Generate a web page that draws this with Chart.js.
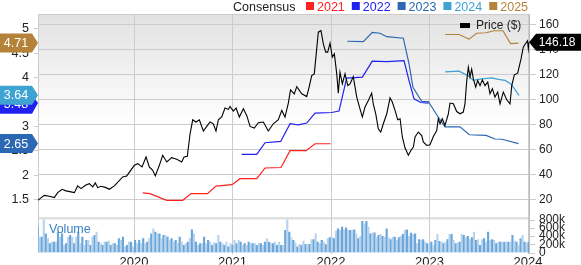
<!DOCTYPE html>
<html><head><meta charset="utf-8">
<script src="https://cdn.jsdelivr.net/npm/chart.js@4.4.1/dist/chart.umd.min.js"></script>
<style>html,body{margin:0;padding:0;background:#fff;overflow:hidden}canvas{display:block}</style>
</head><body>
<canvas id="c" width="581" height="265"></canvas>
<script>
// ---------------- DATA ----------------
const yearTicks = [2020, 2021, 2022, 2023, 2024];
const priceTicks = [20, 40, 60, 80, 100, 120, 140, 160];
const estTicks = [1.5, 2, 2.5, 3, 3.5, 4, 4.5, 5];
const volTicks = [0, 200, 400, 600, 800]; // thousands
const volTickLabels = ['0', '200k', '400k', '600k', '800k'];

const priceYears = [2019.022,2019.089,2019.140,2019.191,2019.225,2019.269,2019.310,2019.394,2019.428,2019.462,
2019.506,2019.546,2019.581,2019.607,2019.631,2019.665,2019.716,2019.749,2019.800,2019.885,
2019.926,2020.003,2020.038,2020.081,2020.122,2020.155,2020.190,2020.216,2020.257,2020.291,
2020.332,2020.383,2020.434,2020.484,2020.508,2020.541,2020.569,2020.596,2020.629,2020.663,
2020.704,2020.738,2020.772,2020.805,2020.832,2020.856,2020.890,2020.924,2020.957,2020.975,
2021.008,2021.036,2021.069,2021.110,2021.144,2021.178,2021.221,2021.262,2021.313,2021.363,
2021.414,2021.465,2021.500,2021.533,2021.567,2021.589,2021.627,2021.652,2021.703,2021.753,
2021.777,2021.804,2021.830,2021.871,2021.898,2021.922,2021.946,2021.966,2021.990,2022.013,
2022.034,2022.058,2022.074,2022.091,2022.115,2022.142,2022.170,2022.193,2022.226,2022.261,
2022.294,2022.318,2022.345,2022.379,2022.413,2022.429,2022.454,2022.480,2022.505,2022.531,
2022.566,2022.599,2022.622,2022.650,2022.677,2022.701,2022.724,2022.751,2022.785,2022.815,
2022.836,2022.853,2022.886,2022.921,2022.937,2022.972,2023.005,2023.039,2023.073,2023.089,
2023.107,2023.130,2023.157,2023.191,2023.208,2023.242,2023.276,2023.310,2023.343,2023.360,
2023.378,2023.394,2023.411,2023.428,2023.445,2023.469,2023.489,2023.513,2023.536,2023.563,
2023.591,2023.614,2023.638,2023.665,2023.692,2023.716,2023.749,2023.784,2023.817,2023.835,
2023.861,2023.895,2023.929,2023.952,2023.977,2023.995,2024.003,2024.010];
const priceValues = [19.4,23.4,22.7,21.6,25.6,28.3,27,25.6,31,28.8,
31.5,32.8,30.2,33.4,29.6,30.7,29.6,28.3,31,38.2,
39,47.5,48.8,46.2,54.2,46.2,43.5,39,47.5,55.5,
50.2,53.6,52.3,50.2,54.2,54.7,72.8,84,82.2,84,
75,78.7,82.2,80.8,75,84,86.2,93.4,92.3,94.7,
91,93.4,86.2,92.8,87.5,78.7,77.4,81.6,82.2,75,
80.8,84,91.5,86.2,97.5,108,104.8,110.6,104.8,102.6,
110,119.4,120.8,154.2,155.4,144.8,138.2,138.2,145.4,134.2,
136.8,120.8,105.4,122.2,112.8,120.8,111.4,112.8,118.6,102.2,
92.8,86.2,94.2,99.4,105.4,96.8,88.8,76.8,74.2,80.8,
88.8,101.6,98.2,91.5,84,84.8,70.2,61.5,55.5,60,
62.2,70.2,74.2,71.4,66.2,63.4,64,70.6,75.4,84.8,
80.8,84.8,79.4,88.8,97.4,96.8,90.6,88.8,90.2,96.8,
115.4,126.2,118.2,124.6,116.8,110.2,115.4,111.4,116,111.4,
114.2,104.8,108.8,102.2,106.2,96.8,106.2,100,96.8,111.4,
120,121.4,132.8,142.2,145.4,147.4,141,146.18];
const lastPrice = 146.18;

const est2021Years = [2020.088,2020.162,2020.332,2020.494,2020.579,2020.746,2020.832,2020.995,2021.076,2021.246,2021.330,2021.492,2021.584,2021.746,2021.838,2021.995];
const est2021Values = [1.637,1.623,1.486,1.486,1.623,1.623,1.777,1.807,1.930,1.930,2.149,2.159,2.503,2.503,2.646,2.646];

const est2022Years = [2021.093,2021.246,2021.330,2021.489,2021.584,2021.668,2021.753,2021.838,2022.007,2022.081,2022.159,2022.318,2022.419,2022.566,2022.741,2022.792,2022.843,2022.911,2022.990];
const est2022Values = [2.427,2.427,2.667,2.693,3.056,3.035,3.070,3.275,3.287,3.316,3.991,4.011,4.339,4.331,4.351,3.942,3.567,3.492,3.48];

const est2023Years = [2022.165,2022.328,2022.419,2022.497,2022.566,2022.734,2022.792,2022.832,2022.921,2022.988,2023.073,2023.157,2023.310,2023.404,2023.574,2023.665,2023.736,2023.904];
const est2023Values = [4.748,4.740,4.932,4.912,4.842,4.810,4.284,3.803,3.512,3.512,3.240,2.994,2.994,2.831,2.816,2.743,2.738,2.65];

const est2024Years = [2023.157,2023.299,2023.394,2023.445,2023.530,2023.632,2023.699,2023.767,2023.827,2023.909];
const est2024Values = [4.120,4.134,4.038,3.946,3.977,3.997,3.966,3.946,3.874,3.64];

const est2025Years = [2023.157,2023.299,2023.401,2023.479,2023.574,2023.655,2023.746,2023.822,2023.904];
const est2025Values = [4.887,4.887,4.791,4.912,4.922,4.963,4.963,4.699,4.71];

const consensusYears = ['2021', '2022', '2023', '2024', '2025'];
const consensusColors = ['#ff2020', '#2020f0', '#2c67b3', '#3ea2d3', '#b5823a'];
const flaggedYears = ['2022', '2023', '2024', '2025'];

// weekly volume, thousands of shares
const volFirstYear = 2019.022, volLastYear = 2024.007;
const volumes = [616,376,376,792,456,336,216,256,256,256,496,376,456,176,216,376,416,376,216,376,
496,216,376,176,296,296,176,376,416,496,256,216,176,256,256,280,176,216,216,176,
336,296,376,136,176,256,256,136,296,216,296,216,336,216,256,336,456,576,496,456,
456,336,416,416,376,296,336,256,296,216,376,256,176,216,256,336,552,456,256,176,
216,216,376,216,296,256,176,232,216,416,256,216,176,256,136,216,176,296,216,296,
256,176,216,176,256,216,216,216,176,216,216,176,256,336,256,216,216,256,
176,256,176,176,536,792,496,360,296,232,136,200,176,280,200,200,200,312,312,456,
256,216,296,256,192,336,360,376,336,520,576,536,616,552,600,536,536,536,552,456,
336,392,760,696,760,616,456,472,480,360,416,440,392,376,576,360,312,376,376,296,
360,392,440,536,552,392,472,440,456,216,312,296,312,256,216,200,256,176,296,440,
272,256,216,256,312,440,440,296,216,232,256,440,416,360,392,312,360,496,296,312,
176,312,336,256,496,296,312,296,216,256,256,256,256,256,256,256,416,280,256,176,
336,416,256,232,256];

// ---------------- CHART ----------------
const FONT = '"Liberation Sans", Arial, sans-serif';
Chart.defaults.font.family = FONT;
const zip = (xs, ys) => xs.map((x, i) => ({x, y: ys[i]}));
const volStep = (volLastYear - volFirstYear) / (volumes.length - 1);
const estSets = [est2021Years, est2022Years, est2023Years, est2024Years, est2025Years];
const estVals = [est2021Values, est2022Values, est2023Values, est2024Values, est2025Values];

const datasets = [];
estSets.forEach((ys, k) => datasets.push({
  type: 'line', label: consensusYears[k], data: zip(ys, estVals[k]), yAxisID: 'yEst',
  borderColor: consensusColors[k], borderWidth: 1.2, pointRadius: 0, tension: 0, order: 2
}));
datasets.push({
  type: 'line', label: 'Price ($)', data: zip(priceYears, priceValues), yAxisID: 'yPrice',
  borderColor: '#000', borderWidth: 1.1, pointRadius: 0, tension: 0, order: 1
});
datasets.push({
  type: 'bar', label: 'Volume', data: volumes.map((v, i) => ({x: volFirstYear + i * volStep, y: v})),
  yAxisID: 'yVol', backgroundColor: volumes.map((v, i) => i % 2 ? '#b7d3ee' : '#6aa6da'),
  barThickness: 1.5, order: 3
});

const decor = {
  id: 'decor',
  beforeDraw(chart) {
    const ctx = chart.ctx, a = chart.chartArea;
    const split = 217;
    ctx.save();
    const g = ctx.createLinearGradient(0, a.top, 0, split);
    g.addColorStop(0, '#e2e2e2');
    g.addColorStop(0.55, '#ffffff');
    g.addColorStop(1, '#ffffff');
    ctx.fillStyle = g;
    ctx.fillRect(a.left, a.top, a.right - a.left, split - a.top);
    ctx.fillStyle = '#e0e0e0';
    ctx.fillRect(a.left, split, a.right - a.left, 2.5);
    ctx.strokeStyle = '#cccccc'; ctx.lineWidth = 1;
    ctx.beginPath(); ctx.moveTo(a.left, a.top + 0.5); ctx.lineTo(a.right, a.top + 0.5); ctx.stroke();
    ctx.restore();
  },
  afterDraw(chart) {
    const ctx = chart.ctx, a = chart.chartArea;
    const yE = chart.scales.yEst, yP = chart.scales.yPrice, yV = chart.scales.yVol;
    ctx.save();
    // top legend
    ctx.font = '12.5px ' + FONT; ctx.textBaseline = 'alphabetic'; ctx.textAlign = 'left';
    ctx.fillStyle = '#222'; ctx.fillText('Consensus', 233, 10.5);
    let x = 306;
    consensusYears.forEach((lab, k) => {
      ctx.fillStyle = consensusColors[k];
      ctx.fillRect(x, 2, 8, 8);
      ctx.fillText(lab, x + 11, 10.5);
      x += 11 + ctx.measureText(lab).width + 7;
    });
    // Price legend
    ctx.fillStyle = '#000';
    ctx.fillRect(460, 23, 10, 5);
    ctx.fillStyle = '#222'; ctx.font = '12px ' + FONT;
    ctx.fillText('Price ($)', 476, 29);
    // Volume label
    ctx.fillStyle = '#3b82c4'; ctx.font = '12.5px ' + FONT;
    ctx.fillText('Volume', 49, 233);
    // volume axis labels
    ctx.fillStyle = '#222'; ctx.font = '12px ' + FONT; ctx.textBaseline = 'middle';
    ctx.strokeStyle = '#cccccc'; ctx.lineWidth = 1;
    volTicks.forEach((v, i) => {
      const y = yV.getPixelForValue(v);
      ctx.beginPath(); ctx.moveTo(a.right, Math.round(y) + 0.5); ctx.lineTo(a.right + 6, Math.round(y) + 0.5); ctx.stroke();
      ctx.fillText(volTickLabels[i], 539, y);
    });
    // left consensus flags (latest value of each current estimate line)
    const flags = [];
    estVals.forEach((vals, k) => {
      if (!flaggedYears.includes(consensusYears[k])) return;
      const v = vals[vals.length - 1];
      flags.push({k, v, tip: yE.getPixelForValue(v)});
    });
    flags.sort((p, q) => p.tip - q.tip);
    let prev = -100;
    flags.forEach(f => { f.c = Math.max(f.tip, prev + 9); prev = f.c; });
    flags.slice().reverse().forEach(f => {
      const h = 9.5;
      ctx.fillStyle = consensusColors[f.k];
      ctx.beginPath();
      ctx.moveTo(0, f.c - h); ctx.lineTo(32, f.c - h); ctx.lineTo(38, f.tip);
      ctx.lineTo(32, f.c + h); ctx.lineTo(0, f.c + h); ctx.closePath(); ctx.fill();
      ctx.fillStyle = '#fff'; ctx.font = '12.5px ' + FONT; ctx.textAlign = 'center'; ctx.textBaseline = 'middle';
      ctx.fillText(f.v.toFixed(2), 16, f.c + 0.5);
    });
    // right price flag
    const py = yP.getPixelForValue(lastPrice);
    ctx.fillStyle = '#000';
    ctx.beginPath();
    ctx.moveTo(a.right, py); ctx.lineTo(a.right + 7, py - 8.5); ctx.lineTo(581, py - 8.5);
    ctx.lineTo(581, py + 8.5); ctx.lineTo(a.right + 7, py + 8.5); ctx.closePath(); ctx.fill();
    ctx.fillStyle = '#fff'; ctx.font = '12px ' + FONT; ctx.textAlign = 'center'; ctx.textBaseline = 'middle';
    ctx.fillText(lastPrice.toFixed(2), 557, py + 0.5);
    ctx.restore();
  }
};

new Chart(document.getElementById('c'), {
  type: 'line',
  data: {datasets},
  options: {
    responsive: false, animation: false, devicePixelRatio: 1,
    layout: {padding: {top: 14, left: 0, right: 0, bottom: 0}},
    plugins: {legend: {display: false}, tooltip: {enabled: false}},
    scales: {
      x: {
        type: 'linear', min: 2019.025, max: 2024.010, offset: false,
        afterBuildTicks: s => { s.ticks = yearTicks.map(v => ({value: v})); },
        afterFit: s => { s.height = 12; },
        grid: {color: '#cccccc', tickLength: 2, offset: false},
        border: {display: false},
        ticks: {font: {size: 13}, color: '#222', padding: 0, maxRotation: 0, autoSkip: false, callback: v => String(v)}
      },
      yPrice: {
        position: 'right', min: -22.4, max: 168.8,
        afterBuildTicks: s => { s.ticks = priceTicks.map(v => ({value: v})); },
        afterFit: s => { s.width = 52; },
        grid: {color: '#cccccc', tickLength: 7},
        border: {color: '#bbbbbb'},
        ticks: {padding: 3, font: {size: 12}, color: '#222', autoSkip: false, callback: v => String(v)}
      },
      yEst: {
        position: 'left', min: 0.4155, max: 5.307,
        afterBuildTicks: s => { s.ticks = estTicks.map(v => ({value: v})); },
        afterFit: s => { s.width = 38; },
        grid: {drawOnChartArea: false, color: '#cccccc', tickLength: 4},
        border: {color: '#cccccc'},
        ticks: {padding: 5, font: {size: 12.5}, color: '#222', autoSkip: false, callback: v => String(v)}
      },
      yVol: {display: false, min: 0, max: 5794}
    }
  },
  plugins: [decor]
});
</script>
</body></html>
